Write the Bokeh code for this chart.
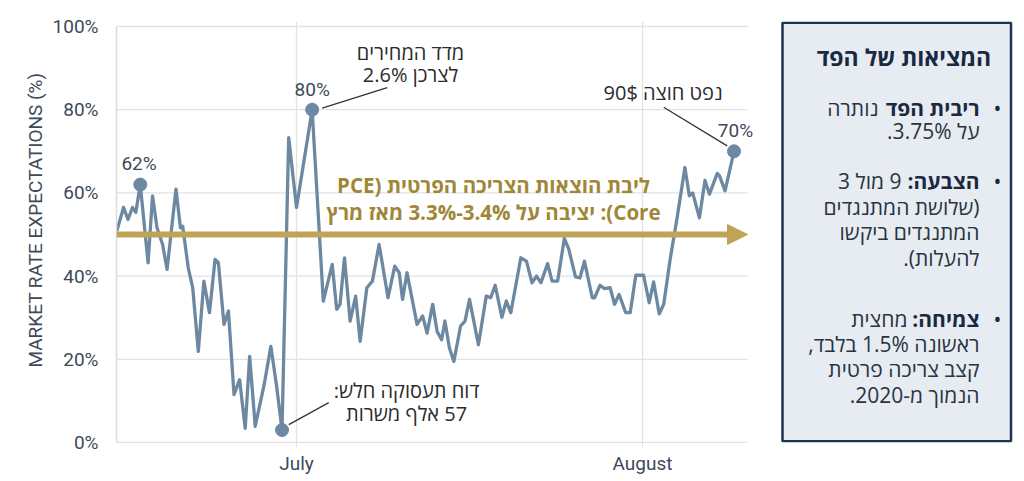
from bokeh.plotting import figure
from bokeh.layouts import row
from bokeh.models import Range1d, FixedTicker, PrintfTickFormatter, Arrow, NormalHead, Title
from bokeh.core.properties import value
from bokeh.embed import file_html
from bokeh.resources import INLINE

# days relative to July 1 and the market expectation in %
days = [-16.1, -15.5, -15.1, -14.7, -14.4, -14.0, -13.3, -12.9, -12.5, -12.0,
        -11.6, -10.8, -10.4, -10.2, -9.7, -9.3, -8.8, -8.3, -7.8, -7.3,
        -7.0, -6.5, -6.1, -5.6, -5.1, -4.6, -4.2, -3.7, -2.9, -2.3,
        -1.8, -1.3, -0.7, 0.0, 1.4, 2.4, 3.2, 3.6, 3.9, 4.3,
        4.8, 5.3, 5.7, 6.3, 6.8, 7.4, 8.2, 8.8, 9.2, 9.5,
        9.9, 10.8, 11.3, 11.7, 12.2, 12.6, 13.0, 13.3, 13.7, 14.1,
        14.7, 15.1, 15.5, 16.3, 17.0, 17.4, 17.8, 18.4, 18.8, 19.2,
        20.1, 20.6, 21.1, 21.5, 21.9, 22.5, 22.9, 23.4, 24.0, 24.4,
        25.0, 25.4, 25.8, 26.5, 26.7, 27.2, 27.6, 28.1, 28.5, 28.9,
        29.5, 29.9, 30.4, 31.1, 31.6, 32.0, 32.5, 32.9, 33.5, 34.1,
        34.8, 35.2, 35.5, 36.1, 36.6, 37.0, 37.7, 37.9, 38.4, 39.2]
expect = [50.8, 56.5, 53.6, 56.5, 55.3, 62.0, 43.2, 59.3, 51.6, 47.6,
          41.6, 60.9, 51.6, 52.0, 42.0, 37.2, 21.9, 38.8, 31.2, 44.0,
          43.2, 28.4, 31.6, 11.5, 15.1, 3.4, 20.7, 3.9, 13.9, 23.1,
          13.9, 3.0, 73.3, 56.5, 80.0, 34.0, 42.8, 32.0, 33.2, 44.4,
          29.2, 35.2, 24.3, 37.2, 38.8, 47.6, 34.8, 42.4, 40.8, 34.4,
          40.8, 28.4, 30.4, 26.3, 33.2, 26.7, 24.7, 29.2, 22.7, 19.5,
          28.0, 29.2, 34.4, 23.5, 35.2, 34.8, 37.8, 30.1, 34.0, 31.2,
          44.4, 43.6, 38.4, 40.0, 38.4, 43.0, 38.8, 38.8, 49.1, 46.4,
          39.8, 39.6, 43.6, 34.8, 34.8, 37.8, 37.0, 37.2, 33.2, 35.6,
          31.2, 31.2, 40.2, 40.2, 33.6, 38.6, 30.9, 33.2, 44.4, 54.0,
          66.1, 59.3, 60.0, 54.0, 63.0, 59.7, 64.7, 64.1, 60.5, 70.0]

month_ticks = [0, 31]
month_labels = ["July", "August"]
y_ticks = [0, 20, 40, 60, 80, 100]
y_title = "MARKET RATE EXPECTATIONS (%)"
core_pce = 50  # level of the gold arrow
x_start, x_stop = -16.13, 40.41  # span of the plotted area

marked = [5, 34, 31, 109]  # 62%, 80%, low, 70%
point_labels = ["62%", "80%", "70%"]

pce_text = ["ליבת הוצאות הצריכה הפרטית (PCE",
            "Core): יציבה על \u202a3.3%-3.4%\u202c מאז מרץ"]
cpi_text = ["מדד המחירים", "לצרכן 2.6%"]
jobs_text = ["דוח תעסוקה חלש:", "57 אלף משרות"]
oil_text = "נפט חוצה 90$"

box_title = "המציאות של הפד"
box_items = [
    [("ריבית הפד", "נותרה"), ("", "על 3.75%.")],
    [("הצבעה:", "9 מול 3"), ("", "(שלושת המתנגדים"), ("", "המתנגדים ביקשו"), ("", "להעלות).")],
    [("צמיחה:", "מחצית"), ("", "ראשונה 1.5% בלבד,"), ("", "קצב צריכה פרטית"), ("", "הנמוך מ-2020.")],
]


def rtl(s):
    return "\u202b" + s + "\u202c"


LAT = value("Roboto")
HEB = value("Open Sans")
BLUE = "#6d88a1"
GOLD = "#c0a455"
GOLD_TXT = "#a08637"
AXIS_TXT = "#3d4a59"
DARK = "#2b2b2b"
NAVY = "#1a2940"
GRID = "#e2e2e2"

# frame runs to the figure's right edge so the 70% label is not clipped
p = figure(width=770, height=481, x_range=Range1d(x_start, 42.47), y_range=Range1d(0, 101.2),
           output_backend="svg", toolbar_location=None, tools="",
           min_border_left=116, min_border_right=0, min_border_top=21, min_border_bottom=39)
p.outline_line_color = None
p.background_fill_color = "white"

p.ygrid.visible = False
p.segment(x0=[x_start] * len(y_ticks), y0=y_ticks, x1=[x_stop] * len(y_ticks), y1=y_ticks,
          line_color=GRID, line_width=1.3)
p.xgrid.ticker = FixedTicker(ticks=month_ticks)
p.xgrid.grid_line_color = GRID
p.xgrid.grid_line_width = 1.3

p.yaxis.ticker = FixedTicker(ticks=y_ticks)
p.yaxis.formatter = PrintfTickFormatter(format="%d%%")
p.yaxis.bounds = (0, 100)
p.yaxis.major_tick_line_color = None
p.yaxis.major_tick_out = 0
p.yaxis.minor_tick_line_color = None
p.yaxis.axis_line_color = "#dcdcdc"
p.yaxis.axis_line_width = 1.5
p.yaxis.major_label_standoff = 18

# vertical axis title, placed a little above centre like the original
p.add_layout(Title(text=y_title, align="right", offset=51, standoff=6,
                   text_font="Roboto", text_font_style="normal", text_font_size="19px",
                   text_color=AXIS_TXT), "left")

p.xaxis.ticker = FixedTicker(ticks=month_ticks)
p.xaxis.major_label_overrides = dict(zip(month_ticks, month_labels))
p.xaxis.bounds = (x_start, x_stop)
p.xaxis.axis_line_color = GRID
p.xaxis.major_tick_line_color = GRID
p.xaxis.major_tick_out = 5
p.xaxis.major_tick_in = 0
p.xaxis.minor_tick_line_color = None
p.xaxis.major_label_standoff = 4

for ax in (p.xaxis, p.yaxis):
    ax.major_label_text_font = "Roboto"
    ax.major_label_text_font_size = "19px"
    ax.major_label_text_color = AXIS_TXT

p.line(days, expect, line_color=BLUE, line_width=3.3, line_join="round")
p.scatter([days[i] for i in marked], [expect[i] for i in marked], size=13,
          fill_color=BLUE, line_color=BLUE)

p.add_layout(Arrow(end=NormalHead(size=20, fill_color=GOLD, line_color=GOLD),
                   x_start=x_start, y_start=core_pce, x_end=x_stop, y_end=core_pce,
                   line_color=GOLD, line_width=6))

p.text(x=[17.65, 17.65], y=[61.8, 55.4], text=[rtl(t) for t in pce_text],
       text_font=HEB, text_font_style="bold", text_font_size="20.5px",
       text_color=GOLD_TXT, text_align="center", text_baseline="middle")

# point labels
p.text(x=[-14.11, 1.41, 39.33], y=[67.1, 84.9, 75.0], text=point_labels,
       text_font=LAT, text_font_size="19px", text_color=AXIS_TXT,
       text_align="center", text_baseline="middle")

# callouts
p.text(x=[10.21, 10.21], y=[93.75, 88.5], text=[rtl(t) for t in cpi_text],
       text_font=HEB, text_font_size="20px", text_color=DARK,
       text_align="center", text_baseline="middle")
p.text(x=[9.86, 9.86], y=[12.5, 6.9], text=[rtl(t) for t in jobs_text],
       text_font=HEB, text_font_size="20px", text_color=DARK,
       text_align="center", text_baseline="middle")
p.text(x=[32.84], y=[84.2], text=[rtl(oil_text)],
       text_font=HEB, text_font_size="20px", text_color=DARK,
       text_align="center", text_baseline="middle")
p.segment(x0=[2.30, -0.69, 32.9], y0=[80.4, 4.3, 80.6],
          x1=[8.13, 2.89, 38.59], y1=[85.3, 9.6, 71.3],
          line_color="#333333", line_width=1.3)

# side box with the Fed facts, laid out in pixels (y grows downwards)
q = figure(width=254, height=481, x_range=Range1d(0, 254), y_range=Range1d(442, 21),
           output_backend="svg", toolbar_location=None, tools="",
           x_axis_type=None, y_axis_type=None,
           min_border_left=0, min_border_right=0, min_border_top=21, min_border_bottom=39)
q.outline_line_color = None
q.grid.visible = False
q.quad(left=12, right=240.5, top=22.3, bottom=440.8, fill_color="#e6ecf2",
       line_color="#1d3350", line_width=2.5)
q.text(x=[220.7], y=[56.7], text=[box_title], text_font=HEB, text_font_style="bold",
       text_font_size="23px", text_color=NAVY, text_align="right", text_baseline="middle")

line_y = [[107.5, 130.5], [180.5, 206, 231.5, 257.5], [318, 343, 368, 394.5]]
bold_w = [98, 75, 69]
for item, ys, bw in zip(box_items, line_y, bold_w):
    q.text(x=[227], y=[ys[0]], text=["•"], text_font=HEB, text_font_size="21px",
           text_color=NAVY, text_align="center", text_baseline="middle")
    for (bold, reg), yy in zip(item, ys):
        if bold:
            q.text(x=[209], y=[yy], text=[rtl(bold)], text_font=HEB, text_font_style="bold",
                   text_font_size="21px", text_color=NAVY, text_align="right",
                   text_baseline="middle")
            q.text(x=[209 - bw - 3], y=[yy], text=[rtl(reg)], text_font=HEB,
                   text_font_size="21px", text_color="#2a3340", text_align="right",
                   text_baseline="middle")
        else:
            q.text(x=[209], y=[yy], text=[rtl(reg)], text_font=HEB, text_font_size="21px",
                   text_color="#2a3340", text_align="right", text_baseline="middle")

layout = row(p, q)
open("out.html", "w").write(file_html(layout, INLINE))
